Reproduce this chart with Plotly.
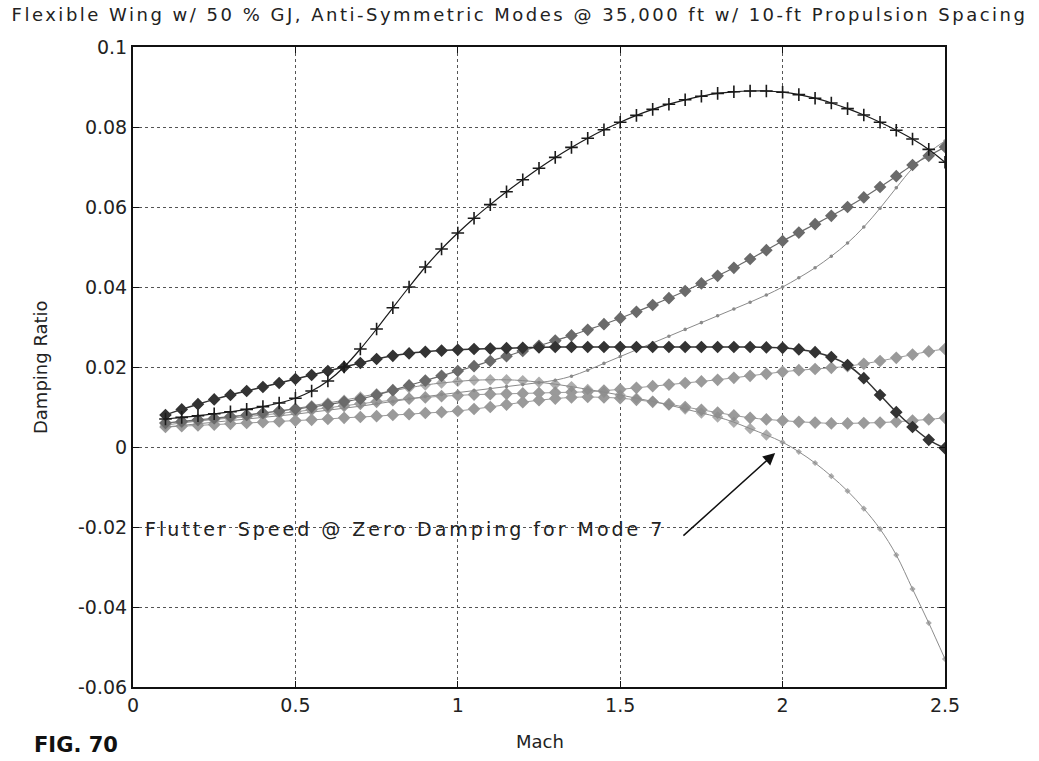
import plotly.graph_objects as go

# Mach number stations
mach = [0.10, 0.15, 0.20, 0.25, 0.30, 0.35, 0.40, 0.45, 0.50, 0.55,
        0.60, 0.65, 0.70, 0.75, 0.80, 0.85, 0.90, 0.95, 1.00, 1.05,
        1.10, 1.15, 1.20, 1.25, 1.30, 1.35, 1.40, 1.45, 1.50, 1.55,
        1.60, 1.65, 1.70, 1.75, 1.80, 1.85, 1.90, 1.95, 2.00, 2.05,
        2.10, 2.15, 2.20, 2.25, 2.30, 2.35, 2.40, 2.45, 2.50]

# Damping ratio for each anti-symmetric mode
mode_a = [0.0070, 0.0074, 0.0078, 0.0083, 0.0088, 0.0094, 0.0101, 0.0110, 0.0122, 0.0140,
          0.0165, 0.0200, 0.0245, 0.0295, 0.0348, 0.0400, 0.0450, 0.0495, 0.0535, 0.0572,
          0.0606, 0.0638, 0.0668, 0.0697, 0.0724, 0.0749, 0.0772, 0.0793, 0.0812, 0.0829,
          0.0844, 0.0857, 0.0868, 0.0877, 0.0884, 0.0888, 0.0890, 0.0890, 0.0887, 0.0881,
          0.0872, 0.0860, 0.0846, 0.0830, 0.0812, 0.0792, 0.0770, 0.0744, 0.0712]

mode_b = [0.0080, 0.0094, 0.0107, 0.0119, 0.0130, 0.0140, 0.0150, 0.0160, 0.0170, 0.0180,
          0.0190, 0.0200, 0.0210, 0.0220, 0.0228, 0.0234, 0.0238, 0.0241, 0.0243, 0.0245,
          0.0246, 0.0247, 0.0248, 0.0249, 0.0250, 0.0250, 0.0250, 0.0250, 0.0250, 0.0250,
          0.0250, 0.0250, 0.0250, 0.0250, 0.0250, 0.0250, 0.0250, 0.0249, 0.0248, 0.0244,
          0.0237, 0.0225, 0.0205, 0.0172, 0.0130, 0.0087, 0.0050, 0.0018, -0.0003]

mode_c = [0.0060, 0.0064, 0.0068, 0.0072, 0.0076, 0.0080, 0.0085, 0.0090, 0.0095, 0.0100,
          0.0106, 0.0113, 0.0120, 0.0130, 0.0142, 0.0154, 0.0166, 0.0178, 0.0190, 0.0202,
          0.0215, 0.0227, 0.0240, 0.0253, 0.0266, 0.0279, 0.0293, 0.0307, 0.0322, 0.0338,
          0.0355, 0.0372, 0.0390, 0.0409, 0.0428, 0.0448, 0.0470, 0.0492, 0.0515, 0.0536,
          0.0557, 0.0578, 0.0600, 0.0624, 0.0650, 0.0677, 0.0705, 0.0728, 0.0750]

mode_d = [0.0050, 0.0054, 0.0058, 0.0062, 0.0066, 0.0070, 0.0074, 0.0078, 0.0082, 0.0087,
          0.0092, 0.0097, 0.0102, 0.0108, 0.0114, 0.0120, 0.0126, 0.0131, 0.0136, 0.0141,
          0.0146, 0.0151, 0.0156, 0.0161, 0.0167, 0.0177, 0.0192, 0.0209, 0.0226, 0.0243,
          0.0260, 0.0277, 0.0294, 0.0311, 0.0328, 0.0345, 0.0362, 0.0380, 0.0400, 0.0423,
          0.0448, 0.0477, 0.0510, 0.0550, 0.0597, 0.0648, 0.0697, 0.0736, 0.0765]

mode_7 = [0.0055, 0.0060, 0.0065, 0.0070, 0.0075, 0.0080, 0.0085, 0.0090, 0.0096, 0.0103,
          0.0110, 0.0117, 0.0125, 0.0133, 0.0141, 0.0148, 0.0155, 0.0160, 0.0164, 0.0167,
          0.0168, 0.0168, 0.0166, 0.0162, 0.0157, 0.0151, 0.0144, 0.0137, 0.0130, 0.0122,
          0.0114, 0.0105, 0.0095, 0.0085, 0.0075, 0.0062, 0.0046, 0.0030, 0.0012, -0.0012,
          -0.0040, -0.0073, -0.0110, -0.0154, -0.0205, -0.0270, -0.0355, -0.0440, -0.0530]

mode_f = [0.0050, 0.0052, 0.0054, 0.0056, 0.0058, 0.0060, 0.0062, 0.0064, 0.0066, 0.0068,
          0.0070, 0.0073, 0.0075, 0.0077, 0.0080, 0.0082, 0.0085, 0.0087, 0.0090, 0.0095,
          0.0100, 0.0106, 0.0112, 0.0117, 0.0121, 0.0124, 0.0125, 0.0124, 0.0122, 0.0118,
          0.0113, 0.0107, 0.0100, 0.0093, 0.0086, 0.0079, 0.0073, 0.0069, 0.0066, 0.0063,
          0.0061, 0.0059, 0.0059, 0.0060, 0.0061, 0.0063, 0.0066, 0.0069, 0.0073]

mode_g = [0.0060, 0.0063, 0.0066, 0.0069, 0.0072, 0.0076, 0.0080, 0.0084, 0.0088, 0.0093,
          0.0098, 0.0103, 0.0108, 0.0113, 0.0117, 0.0121, 0.0124, 0.0127, 0.0129, 0.0131,
          0.0132, 0.0133, 0.0134, 0.0135, 0.0136, 0.0137, 0.0138, 0.0141, 0.0144, 0.0148,
          0.0152, 0.0156, 0.0160, 0.0164, 0.0168, 0.0173, 0.0178, 0.0183, 0.0188, 0.0192,
          0.0195, 0.0198, 0.0202, 0.0208, 0.0215, 0.0223, 0.0231, 0.0239, 0.0245]

x_ticks = [0, 0.5, 1, 1.5, 2, 2.5]
x_labels = ["0", "0.5", "1", "1.5", "2", "2.5"]
y_ticks = [-0.06, -0.04, -0.02, 0, 0.02, 0.04, 0.06, 0.08, 0.1]
y_labels = ["-0.06", "-0.04", "-0.02", "0", "0.02", "0.04", "0.06", "0.08", "0.1"]

title_text = "Flexible Wing w/ 50 % GJ, Anti-Symmetric Modes @ 35,000 ft w/ 10-ft Propulsion Spacing"
note_text = "Flutter Speed @ Zero Damping for Mode 7"

FONT = "DejaVu Sans"
INK = "#222222"

# beyond the flutter point mode 7 is drawn with small markers only
mode_7_sizes = [7 if m < 2.0 else 3 for m in mach]

fig = go.Figure()

# lighter bands first, dark curves on top
styles = [
    (mode_g, "#9a9a9a", "diamond", 8, 1.0),
    (mode_f, "#9a9a9a", "diamond", 8, 1.0),
    (mode_7, "#8c8c8c", "diamond", mode_7_sizes, 1.0),
    (mode_d, "#8a8a8a", "circle", 2, 1.0),
    (mode_c, "#6a6a6a", "diamond", 8, 1.2),
    (mode_b, "#333333", "diamond", 8, 1.5),
    (mode_a, "#1a1a1a", "cross-thin", 9, 1.2),
]
for values, color, symbol, size, lw in styles:
    fig.add_trace(go.Scatter(
        x=mach, y=values, mode="lines+markers", line_shape="spline",
        line=dict(color=color, width=lw),
        marker=dict(symbol=symbol, size=size, color=color,
                    line=dict(color=color, width=1.6)),
        showlegend=False, hoverinfo="skip",
    ))

axis_common = dict(
    showline=True, linecolor="#111111", linewidth=2, mirror="ticks",
    ticks="inside", ticklen=6, tickcolor="#111111",
    showgrid=True, gridcolor="#555555", gridwidth=1, griddash="dot",
    zeroline=False, tickfont=dict(family=FONT, size=19, color=INK),
)

fig.update_xaxes(range=[0, 2.5], tickvals=x_ticks, ticktext=x_labels, **axis_common)
fig.update_yaxes(range=[-0.06, 0.1], tickvals=y_ticks, ticktext=y_labels, **axis_common)

fig.update_layout(
    width=1039, height=761,
    margin=dict(l=133, r=94, t=47, b=74),
    paper_bgcolor="white", plot_bgcolor="white",
    title=dict(
        text='<span style="letter-spacing:2.5px">' + title_text + "</span>",
        x=0.5, xanchor="center", xref="container",
        y=1 - 15 / 761, yanchor="middle", yref="container",
        font=dict(family=FONT, size=18, color=INK),
    ),
    annotations=[
        dict(text="Damping Ratio", textangle=-90, xref="paper", yref="paper",
             x=-0.1145, y=0.5, xanchor="center", yanchor="middle", showarrow=False,
             font=dict(family=FONT, size=18, color=INK)),
        dict(text="Mach", xref="paper", yref="paper", x=0.501, y=-0.0859,
             xanchor="center", yanchor="middle", showarrow=False,
             font=dict(family=FONT, size=18, color=INK)),
        dict(text="<b>FIG. 70</b>", xref="paper", yref="paper", x=-0.1244, y=-0.1125,
             xanchor="left", yanchor="bottom", showarrow=False,
             font=dict(family=FONT, size=21, color="#111111")),
        dict(text='<span style="letter-spacing:3px">' + note_text + "</span>",
             xref="x", yref="y", x=0.031, y=-0.0205,
             xanchor="left", yanchor="middle", showarrow=False,
             font=dict(family=FONT, size=19, color=INK)),
        dict(text="", xref="x", yref="y", x=1.977, y=-0.0015,
             axref="x", ayref="y", ax=1.69, ay=-0.0225,
             showarrow=True, arrowhead=2, arrowsize=1.6, arrowwidth=1.5,
             arrowcolor="#111111"),
    ],
)

fig.write_html("out.html")
